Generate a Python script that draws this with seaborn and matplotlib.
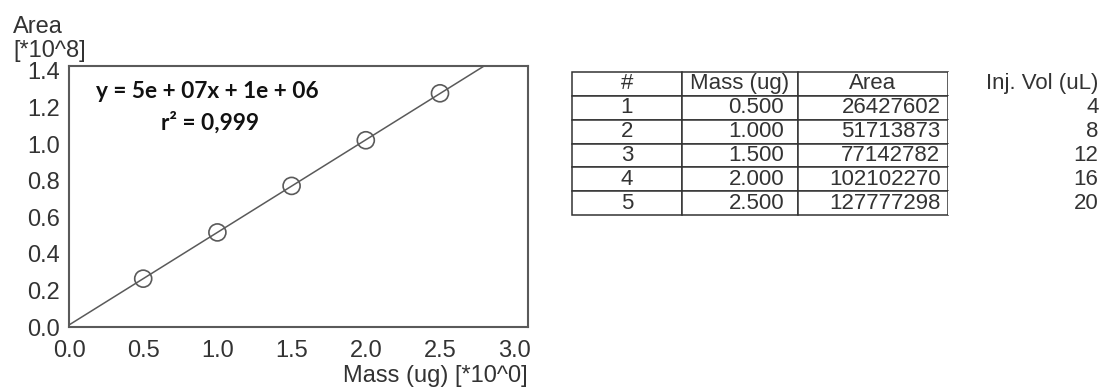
import numpy as np
import pandas as pd
import matplotlib
matplotlib.use("Agg")
import matplotlib.pyplot as plt
import seaborn as sns

# Calibration standards
sample_ids = [1, 2, 3, 4, 5]
mass_ug = [0.5, 1.0, 1.5, 2.0, 2.5]
area_counts = [26427602, 51713873, 77142782, 102102270, 127777298]
inj_vol_ul = [4, 8, 12, 16, 20]

x_ticks = [0.0, 0.5, 1.0, 1.5, 2.0, 2.5, 3.0]
y_ticks = [0.0, 0.2, 0.4, 0.6, 0.8, 1.0, 1.2, 1.4]
area_scale = 1e8

equation_text = "y = 5e + 07x + 1e + 06"
r2_text = "r\u00b2 = 0,999"

sns.set_theme(style="white")
plt.rcParams["font.family"] = ["Liberation Sans", "DejaVu Sans"]

TEXT = "#333333"
LINE = "#5a5a5a"

W, H = 1104, 389
fig = plt.figure(figsize=(W / 100, H / 100), dpi=100)

def px_box(left, top, right, bottom):
    return [left / W, 1 - bottom / H, (right - left) / W, (bottom - top) / H]

ax = fig.add_axes(px_box(69, 66, 528, 327))

df = pd.DataFrame({"mass": mass_ug, "area": np.array(area_counts) / area_scale})

# least-squares calibration line across the full x range
slope, intercept = np.polyfit(df["mass"], df["area"], 1)
x_max = 3.093
fit = pd.DataFrame({"mass": [0.0, x_max]})
fit["area"] = slope * fit["mass"] + intercept

sns.lineplot(data=fit, x="mass", y="area", ax=ax, color=LINE, lw=1.1)
sns.scatterplot(data=df, x="mass", y="area", ax=ax, s=150, marker="o",
                facecolor="none", edgecolor=LINE, linewidth=1.2, zorder=3)

ax.set_xlim(0, x_max)
ax.set_ylim(0, 1.427)
ax.set_xticks(x_ticks)
ax.set_yticks(y_ticks)
ax.set_xticklabels([f"{v:.1f}" for v in x_ticks])
ax.set_yticklabels([f"{v:.1f}" for v in y_ticks])
ax.tick_params(axis="both", direction="in", length=2.5, width=1,
               color=LINE, labelsize=17, labelcolor=TEXT)
ax.tick_params(axis="x", pad=9.5)
ax.tick_params(axis="y", pad=6.5)
for sp in ax.spines.values():
    sp.set_color(LINE)
    sp.set_linewidth(1.5)

ax.set_xlabel("Mass (ug) [*10^0]", loc="right", fontsize=17, color=TEXT, labelpad=2)
ax.set_ylabel("")

fig.text(13 / W, 1 - 33 / H, "Area", fontsize=17, color=TEXT, ha="left", va="baseline")
fig.text(13 / W, 1 - 57 / H, "[*10^8]", fontsize=17, color=TEXT, ha="left", va="baseline")

# regression annotation
ax.text(207 / W, 1 - 92 / H, equation_text, transform=fig.transFigure,
        family=["Lato", "DejaVu Sans"], fontweight="bold", fontsize=16.3,
        color="#111111", ha="center", va="center")
ax.text(210 / W, 1 - 123 / H, r2_text, transform=fig.transFigure,
        family=["Lato", "DejaVu Sans"], fontweight="bold", fontsize=16.3,
        color="#111111", ha="center", va="center")

# data table with the injection volume column beside it
tax = fig.add_axes(px_box(572, 72, 1100, 215))
tax.axis("off")
col_w = np.array([110, 116, 150, 152], dtype=float)
col_w = col_w / col_w.sum()
cells = [[str(i), f"{m:.3f}", str(a), str(v)]
         for i, m, a, v in zip(sample_ids, mass_ug, area_counts, inj_vol_ul)]
tbl = tax.table(cellText=cells,
                colLabels=["#", "Mass (ug)", "Area", "Inj. Vol (uL)"],
                colWidths=list(col_w), bbox=[0, 0, 1, 1], cellLoc="center")
tbl.auto_set_font_size(False)
tbl.set_fontsize(16)
pads = {0: 0.1, 1: 0.12, 2: 0.05, 3: 0.01}
for (r, c), cell in tbl.get_celld().items():
    cell.set_linewidth(1.1)
    cell.set_edgecolor("#333333")
    cell.get_text().set_color(TEXT)
    cell.PAD = pads[c]
    if c == 3:
        cell.set_edgecolor("none")
        cell.get_text().set_ha("right")
        cell._loc = "right"
    elif r > 0 and c in (1, 2):
        cell._loc = "right"
        cell.get_text().set_ha("right")

fig.savefig("out.png", dpi=100)
